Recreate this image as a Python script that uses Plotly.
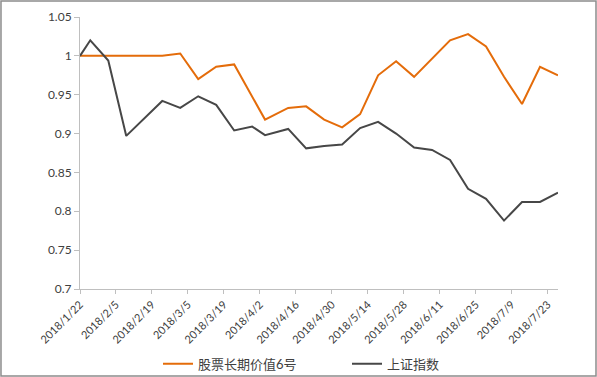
import plotly.graph_objects as go

dates = ["2018-01-22", "2018-01-26", "2018-02-02", "2018-02-09", "2018-02-23", "2018-03-02",
         "2018-03-09", "2018-03-16", "2018-03-23", "2018-03-30", "2018-04-04", "2018-04-13",
         "2018-04-20", "2018-04-27", "2018-05-04", "2018-05-11", "2018-05-18", "2018-05-25",
         "2018-06-01", "2018-06-08", "2018-06-15", "2018-06-22", "2018-06-29", "2018-07-06",
         "2018-07-13", "2018-07-20", "2018-07-27"]

fund_name = "股票长期价值6号"
fund_values = [1.000, 1.000, 1.000, 1.000, 1.000, 1.003, 0.970, 0.986, 0.989, None, 0.918,
               0.933, 0.935, 0.918, 0.908, 0.925, 0.975, 0.993, 0.973, 0.997, 1.020,
               1.028, 1.012, 0.973, 0.938, 0.986, 0.975]

index_name = "上证指数"
index_values = [1.000, 1.020, 0.994, 0.897, 0.942, 0.933, 0.948, 0.937, 0.904, 0.909, 0.898,
                0.906, 0.881, 0.884, 0.886, 0.907, 0.915, 0.900, 0.882, 0.879, 0.866,
                0.829, 0.816, 0.788, 0.812, 0.812, 0.824]

tick_labels = ["2018/1/22", "2018/2/5", "2018/2/19", "2018/3/5", "2018/3/19", "2018/4/2",
               "2018/4/16", "2018/4/30", "2018/5/14", "2018/5/28", "2018/6/11", "2018/6/25",
               "2018/7/9", "2018/7/23"]


def label_to_date(s):
    y, m, d = s.split("/")
    return f"{int(y):04d}-{int(m):02d}-{int(d):02d}"


tick_vals = [label_to_date(s) for s in tick_labels]

FONT = "Lato, 'Noto Sans CJK SC', sans-serif"
TXT = "#404040"

fig = go.Figure()
fig.add_trace(go.Scatter(x=dates, y=fund_values, name=fund_name, mode="lines",
                         connectgaps=True, line=dict(color="#E46C0A", width=2)))
fig.add_trace(go.Scatter(x=dates, y=index_values, name=index_name, mode="lines",
                         line=dict(color="#474747", width=2)))

fig.update_layout(
    width=597, height=377,
    margin=dict(l=80, r=39, t=17, b=88, autoexpand=False),
    paper_bgcolor="white", plot_bgcolor="white",
    font=dict(family=FONT, size=12, color=TXT),
    showlegend=True,
    legend=dict(orientation="h", x=158 / 597, xanchor="left", xref="container",
                y=0.035, yanchor="middle", yref="container",
                bgcolor="rgba(0,0,0,0)",
                font=dict(size=13, color=TXT), itemwidth=30, tracegroupgap=0,
                entrywidth=144, entrywidthmode="pixels"),
    shapes=[dict(type="rect", xref="paper", yref="paper",
                 x0=-0.1653, x1=1.0795, y0=-0.3199, y1=1.0588,
                 line=dict(color="#8c8c8c", width=1.5), fillcolor="rgba(0,0,0,0)",
                 layer="below")],
)
fig.update_xaxes(
    type="date", range=[dates[0], dates[-1]], automargin=False,
    tickvals=tick_vals, ticktext=tick_labels, tickangle=-45,
    tickfont=dict(size=11, color=TXT),
    showgrid=False, zeroline=False,
    showline=True, linecolor="#bfbfbf", linewidth=1,
    ticks="outside", ticklen=4, tickcolor="#bfbfbf",
)
fig.update_yaxes(
    range=[0.7, 1.05], dtick=0.05, tick0=0.7, automargin=False,
    tickfont=dict(size=12, color=TXT),
    showgrid=False, zeroline=False,
    showline=True, linecolor="#bfbfbf", linewidth=1,
    ticks="outside", ticklen=5, tickcolor="#bfbfbf",
)

fig.write_html("out.html", config={"displayModeBar": False},
               post_script="document.body.style.margin='0';")
